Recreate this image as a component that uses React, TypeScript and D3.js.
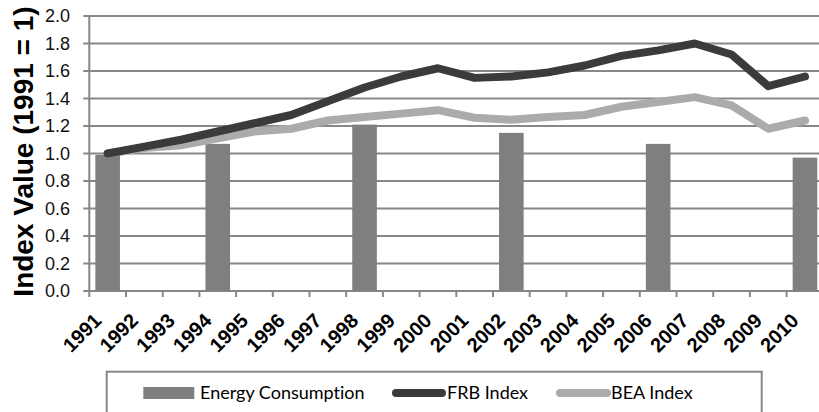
import * as d3 from 'd3';

const years = ['1991', '1992', '1993', '1994', '1995', '1996', '1997', '1998', '1999', '2000',
  '2001', '2002', '2003', '2004', '2005', '2006', '2007', '2008', '2009', '2010'];
const energy = [0.99, null, null, 1.07, null, null, null, 1.21, null, null,
  null, 1.15, null, null, null, 1.07, null, null, null, 0.97];
const frb = [1.0, 1.05, 1.1, 1.16, 1.22, 1.28, 1.38, 1.48, 1.56, 1.62,
  1.55, 1.56, 1.59, 1.64, 1.71, 1.75, 1.8, 1.72, 1.49, 1.56];
const bea = [1.0, 1.04, 1.06, 1.11, 1.16, 1.18, 1.24, 1.265, 1.29, 1.315,
  1.26, 1.245, 1.265, 1.28, 1.34, 1.375, 1.41, 1.35, 1.18, 1.24];
const yTicks = [0, 0.2, 0.4, 0.6, 0.8, 1.0, 1.2, 1.4, 1.6, 1.8, 2.0];

const W = 819;
const H = 412;
const left = 89.3;
const right = 823.3;
const top = 16;
const bottom = 291;

const gridColor = '#878787';
const barColor = '#7f7f7f';
const frbColor = '#3b3b3b';
const beaColor = '#ababab';
const legendFont = { fontFamily: 'Lato, sans-serif', fontSize: 18, fill: '#000', style: { fontVariantLigatures: 'none' } };

export default function App() {
  const x = d3.scaleBand().domain(years).range([left, right]);
  const y = d3.scaleLinear().domain([0, 2]).range([bottom, top]);
  const bw = x.bandwidth();
  const cx = (d: string) => (x(d) as number) + bw / 2;

  const line = d3.line<number>()
    .x((_, i) => cx(years[i]))
    .y(d => y(d));

  return (
    <svg width={W} height={H} style={{ position: 'absolute', left: 0, top: 0, background: '#fff' }}>
      {/* grid */}
      {yTicks.map(t => (
        <g key={t}>
          <line x1={left - 6} x2={right} y1={y(t)} y2={y(t)} stroke={gridColor} strokeWidth={2} />
          <text x={70} y={y(t)} dy="0.35em" textAnchor="end"
            fontFamily="Liberation Sans, Arial, sans-serif" fontSize={18} fill="#111">
            {t.toFixed(1)}
          </text>
        </g>
      ))}
      <line x1={left} x2={left} y1={top} y2={bottom} stroke={gridColor} strokeWidth={2} />
      {years.map(d => (
        <line key={d} x1={x(d)} x2={x(d)} y1={bottom} y2={bottom + 6} stroke={gridColor} strokeWidth={2} />
      ))}

      {/* bars */}
      {years.map((d, i) => energy[i] == null ? null : (
        <rect key={d} x={cx(d) - bw * 0.335} width={bw * 0.67}
          y={y(energy[i] as number)} height={bottom - y(energy[i] as number)} fill={barColor} />
      ))}

      {/* lines */}
      <path d={line(bea) || ''} fill="none" stroke={beaColor} strokeWidth={8}
        strokeLinejoin="round" strokeLinecap="round" />
      <path d={line(frb) || ''} fill="none" stroke={frbColor} strokeWidth={8}
        strokeLinejoin="round" strokeLinecap="round" />

      {/* x labels */}
      {years.map(d => (
        <text key={d} transform={`translate(${cx(d) - 5},322) rotate(-45)`} textAnchor="end"
          fontFamily="Liberation Sans, Arial, sans-serif" fontWeight="bold" fontSize={20} fill="#000">
          {d}
        </text>
      ))}

      {/* y title */}
      <text transform="translate(33,151.5) rotate(-90)" textAnchor="middle"
        fontFamily="Liberation Sans, Arial, sans-serif" fontWeight="bold" fontSize={28} fill="#000">
        Index Value (1991 = 1)
      </text>

      {/* legend */}
      <rect x={106.7} y={371.7} width={655} height={60} fill="none" stroke={gridColor} strokeWidth={2} />
      <rect x={143.3} y={387} width={51} height={12} fill={barColor} />
      <text x={200} y={398.5} {...legendFont}>Energy Consumption</text>
      <line x1={396} x2={442} y1={393} y2={393} stroke={frbColor} strokeWidth={8} strokeLinecap="round" />
      <text x={447} y={398.5} {...legendFont}>FRB Index</text>
      <line x1={560} x2={607} y1={393} y2={393} stroke={beaColor} strokeWidth={8} strokeLinecap="round" />
      <text x={611} y={398.5} {...legendFont}>BEA Index</text>
    </svg>
  );
}
